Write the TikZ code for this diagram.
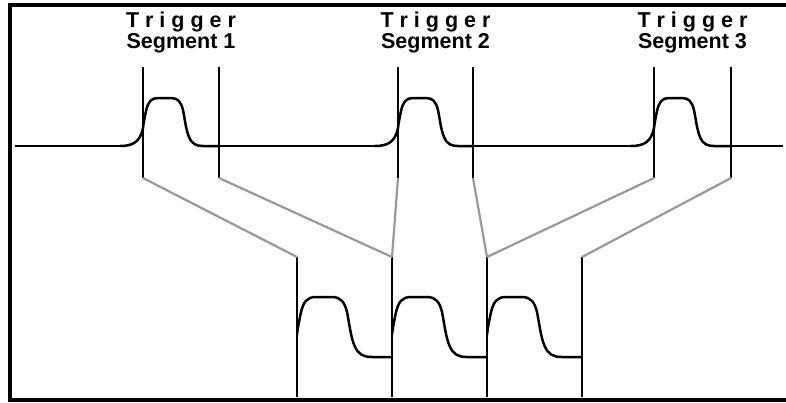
\documentclass[tikz,border=0pt]{standalone}
\usepackage{fontspec}
\setmainfont{Liberation Sans}
\usetikzlibrary{positioning}

% one pulse, origin at the left marker, on the baseline
\newcommand{\pulsecurve}{(-23,0) .. controls (-10,0) and (-3,-4) .. (0,-18)
    .. controls (1,-26) and (2,-30) .. (3,-35)
    .. controls (5,-44) and (8,-48) .. (15,-48) -- (28,-48)
    .. controls (35,-48) and (38,-44) .. (40,-36)
    .. controls (42,-26) and (43,-16) .. (46,-9)
    .. controls (49,-2) and (53,0) .. (60,0) -- (76,0)}

\begin{document}
\begin{tikzpicture}[
    x=1pt, y=-1pt,
    wave/.style={line width=2.5pt, line join=round},
    marker/.style={line width=2.5pt},
    link/.style={line width=2.2pt, draw=black!40},
    frame/.style={line width=4pt},
    lbl/.style={font=\fontsize{21.5}{21}\selectfont\bfseries, anchor=base, inner sep=0pt},
]
    \useasboundingbox (0,0) rectangle (786,402);

    % Frame (open on the right)
    \draw[frame] (786,5) -- (10,5) -- (10,399.5) -- (786,399.5);

    % Labels
    \node[lbl] (trig1) at (181,27) {T r i g g e r};
    \node[lbl] (seg1) at (181,48) {Segment 1};
    \node[lbl] (trig2) at (435.5,27) {T r i g g e r};
    \node[lbl] (seg2) at (435.5,48) {Segment 2};
    \node[lbl] (trig3) at (692.5,27) {T r i g g e r};
    \node[lbl] (seg3) at (692.5,48) {Segment 3};

    % Input signal with three pulses
    \draw[wave] (15,146) -- (120,146);
    \draw[wave] (219,146) -- (375,146);
    \draw[wave] (473,146) -- (631,146);
    \draw[wave] (730,146) -- (783,146);
    \foreach \x in {143,398,654}
        \draw[wave, shift={(\x,146)}] \pulsecurve;

    % Segment markers
    \foreach \x [count=\i] in {143,219,398,473,654,731} {
        \coordinate (top\i) at (\x,67);
        \coordinate (foot\i) at (\x,178);
        \draw[marker] (top\i) -- (foot\i);
    }

    % Stored segments
    \foreach \x [count=\i] in {297,392,487,582} {
        \coordinate (win\i) at (\x,257);
        \coordinate (winfoot\i) at (\x,397);
        \draw[marker] (win\i) -- (winfoot\i);
    }
    \foreach \x in {297,392,487} {
        \begin{scope}[shift={(\x,357)}, scale=1.25]
            \clip (0,-70) rectangle (76,10);
            \draw[wave] \pulsecurve;
        \end{scope}
    }

    % Mapping lines
    \draw[link] (foot1) -- (win1);
    \draw[link] (foot2) -- (win2);
    \draw[link] (foot3) -- (win2);
    \draw[link] (foot4) -- (win3);
    \draw[link] (foot5) -- (win3);
    \draw[link] (foot6) -- (win4);
\end{tikzpicture}
\end{document}
